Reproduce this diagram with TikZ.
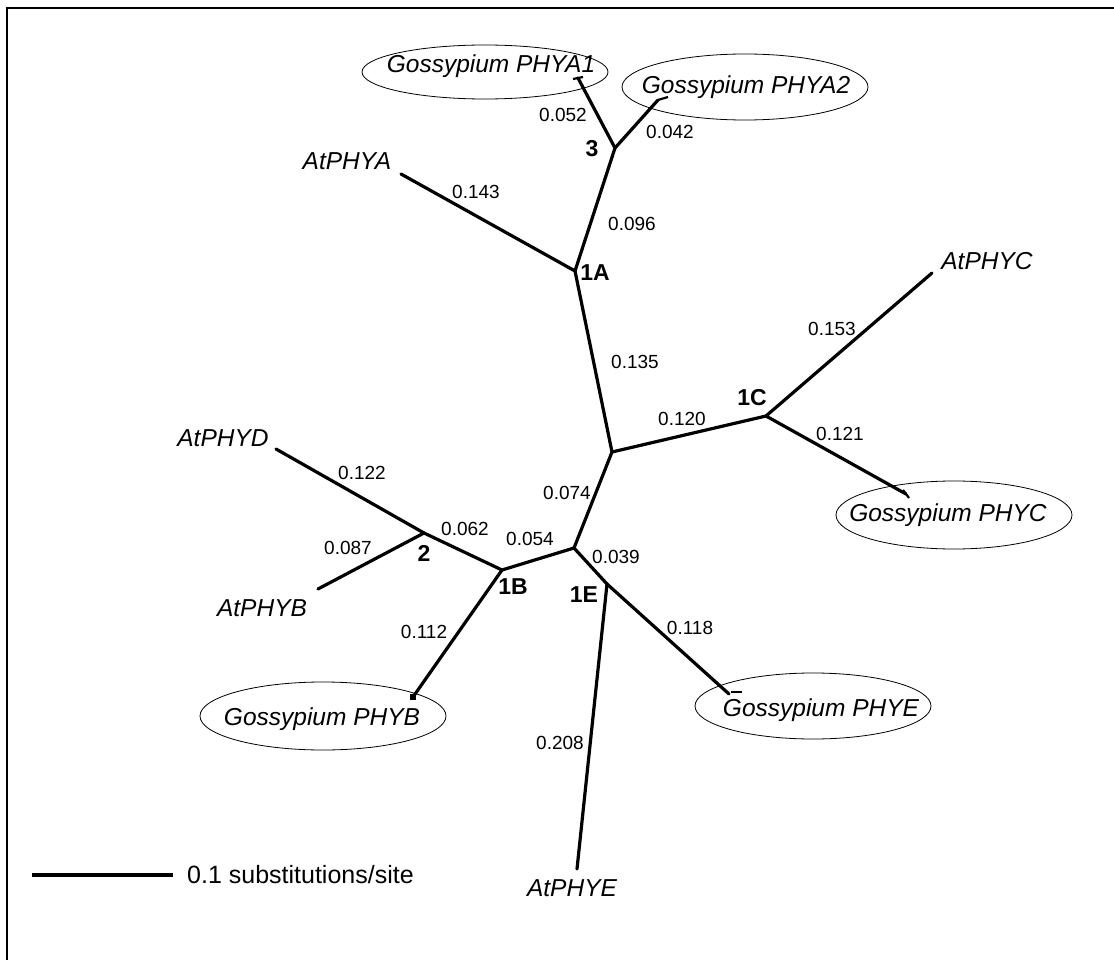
\documentclass[tikz,border=0pt]{standalone}
\usepackage{fontspec}
\setmainfont{Liberation Sans}
\begin{document}
\begin{tikzpicture}[x=1pt,y=-1pt,
  branch/.style={line width=3.2pt, line cap=round},
  tick/.style={line width=2.2pt},
  len/.style={font=\fontsize{19}{22}\selectfont, inner sep=0pt},
  sp/.style={font=\fontsize{24.5}{28}\selectfont\itshape, inner sep=0pt},
  cl/.style={font=\fontsize{23}{26}\selectfont\bfseries, inner sep=0pt},
  ring/.style={line width=0.8pt},
  frame/.style={line width=2.5pt}
]
\useasboundingbox (0,0) rectangle (1114,960);
% frame (top and left only)
\coordinate (fbl) at (7,960);
\coordinate (ftl) at (7,8);
\coordinate (ftr) at (1114,8);
\draw[frame] (fbl) -- (ftl) -- (ftr);

% internal nodes
\coordinate (n3) at (615,148);
\coordinate (n1A) at (575,271);
\coordinate (nc) at (612,452);
\coordinate (n1C) at (766,416);
\coordinate (n1E) at (574,548);
\coordinate (n1B) at (502,570);
\coordinate (n2) at (424,533);
\coordinate (nE2) at (607,584);

% tips
\coordinate (tA1) at (578,78);
\coordinate (tA2) at (658,100);
\coordinate (tAtA) at (401,174);
\coordinate (tAtC) at (932,273);
\coordinate (tC) at (906,494);
\coordinate (tAtD) at (276,449);
\coordinate (tAtB) at (318,589);
\coordinate (tB) at (413,697);
\coordinate (tE) at (729,694);
\coordinate (tAtE) at (577,869);

% Gossypium labels with ellipses
\coordinate (eA1) at (485,72);
\coordinate (eA2) at (745,87);
\coordinate (eC) at (954,515);
\coordinate (eB) at (323,716);
\coordinate (eE) at (813,706);
\draw[ring] (eA1) ellipse [x radius=123, y radius=27];
\draw[ring] (eA2) ellipse [x radius=123, y radius=33];
\draw[ring] (eC) ellipse [x radius=118, y radius=34];
\draw[ring] (eB) ellipse [x radius=123, y radius=34];
\draw[ring] (eE) ellipse [x radius=118, y radius=33];
\node[sp] (gA1) at (491,66) {Gossypium PHYA1};
\node[sp] (gA2) at (746,87) {Gossypium PHYA2};
\node[sp] (gC) at (948,515) {Gossypium PHYC};
\node[sp] (gB) at (322,719) {Gossypium PHYB};
\node[sp] (gE) at (821,710) {Gossypium PHYE};

% branches
\draw[branch] (n3) -- (tA1);
\draw[branch] (n3) -- (tA2);
\draw[branch] (n1A) -- (n3);
\draw[branch] (n1A) -- (tAtA);
\draw[branch] (n1A) -- (nc);
\draw[branch] (nc) -- (n1C);
\draw[branch] (n1C) -- (tAtC);
\draw[branch] (n1C) -- (tC);
\draw[branch] (nc) -- (n1E);
\draw[branch] (n1E) -- (n1B);
\draw[branch] (n1B) -- (n2);
\draw[branch] (n2) -- (tAtD);
\draw[branch] (n2) -- (tAtB);
\draw[branch] (n1B) -- (tB);
\draw[branch] (n1E) -- (nE2);
\draw[branch] (nE2) -- (tE);
\draw[branch] (nE2) -- (tAtE);

% small ticks at Gossypium tips
\draw[tick] (tA1) ++(-5,1) -- ++(10,-2);
\draw[tick] (tA2) -- ++(10,-3);
\draw[tick] (tC) ++(-3,-4) -- ++(6,8);
\draw[tick] (tE) ++(2,-2) -- ++(11,0);
\fill (tB) ++(-3,-3) rectangle ++(6,6);

% leaf labels
\node[sp] (lAtA) at (347,161) {AtPHYA};
\node[sp] (lAtC) at (987,261) {AtPHYC};
\node[sp] (lAtD) at (223,438) {AtPHYD};
\node[sp] (lAtB) at (262,608) {AtPHYB};
\node[sp] (lAtE) at (572,888) {AtPHYE};

% clade labels
\node[cl] (c3) at (592,149) {3};
\node[cl] (c1A) at (595,273) {1A};
\node[cl] (c1C) at (752,398) {1C};
\node[cl] (c2) at (424,553) {2};
\node[cl] (c1B) at (513,587) {1B};
\node[cl] (c1E) at (584,595) {1E};

% branch lengths
\node[len] (b052) at (563,115) {0.052};
\node[len] (b042) at (670,132) {0.042};
\node[len] (b143) at (476,192) {0.143};
\node[len] (b096) at (632,224) {0.096};
\node[len] (b135) at (635,362) {0.135};
\node[len] (b120) at (682,419) {0.120};
\node[len] (b153) at (832,329) {0.153};
\node[len] (b121) at (840,434) {0.121};
\node[len] (b074) at (567,493) {0.074};
\node[len] (b054) at (530,539) {0.054};
\node[len] (b062) at (465,529) {0.062};
\node[len] (b122) at (362,473) {0.122};
\node[len] (b087) at (348,548) {0.087};
\node[len] (b112) at (424,632) {0.112};
\node[len] (b039) at (616,557) {0.039};
\node[len] (b118) at (690,628) {0.118};
\node[len] (b208) at (560,743) {0.208};

% scale bar
\coordinate (sb1) at (32,875);
\coordinate (sb2) at (173,875);
\draw[branch, line cap=butt] (sb1) -- (sb2);
\node[anchor=west, inner sep=0pt, font=\fontsize{25}{28}\selectfont] (sbl) at (187,875) {0.1 substitutions/site};
\end{tikzpicture}
\end{document}
